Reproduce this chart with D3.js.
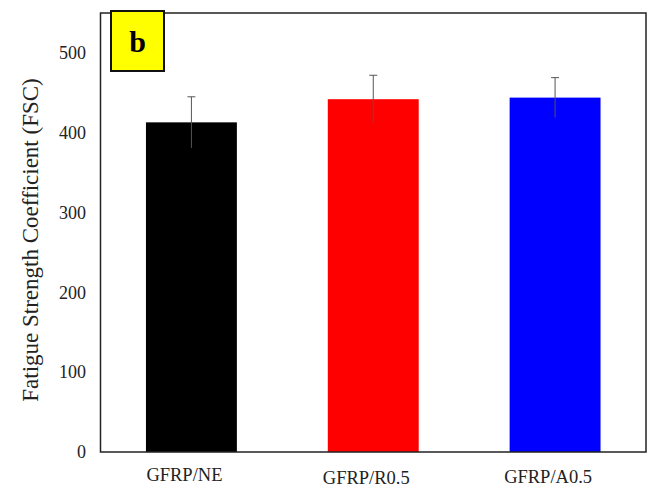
<!DOCTYPE html>
<html>
<head>
<script src="https://d3js.org/d3.v7.min.js"></script>
<style>
    body{margin:0;background:#fff;}
</style>
</head>
<body>
<div id="chart"></div>
<script>
    // data
    var groups = ["GFRP/NE","GFRP/R0.5","GFRP/A0.5"]
    var values = [413, 442, 444]
    var errors = [32, 30, 25]
    var colors = ["#000000","#ff0000","#0000ff"]
    var yTicks = [0,100,200,300,400,500]

    var width = 650, height = 487
    var plotLeft = 100.5, plotRight = 646, plotTop = 13, plotBottom = 452
    var serif = "'Liberation Serif', 'DejaVu Serif', 'Times New Roman', serif"

    var svg = d3.select("#chart").append("svg")
        .attr("width",width).attr("height",height)
        .style("font-family",serif)

    var x = d3.scaleBand().domain(groups).range([plotLeft,plotRight])
        .paddingInner(0.5).paddingOuter(0.25)
    var y = d3.scaleLinear().domain([0,550]).range([plotBottom,plotTop])

    var data = groups.map(function(g,i){
        return {name:g,value:values[i],err:errors[i],color:colors[i]}
    })

    svg.selectAll(".bar")
        .data(data)
        .enter()
        .append("rect")
        .attr("class","bar")
        .attr("x",function(d){return x(d.name)})
        .attr("y",function(d){return y(d.value)})
        .attr("width",x.bandwidth())
        .attr("height",function(d){return y(0)-y(d.value)})
        .attr("fill",function(d){return d.color})

    // error bars
    var eb = svg.selectAll(".err").data(data).enter().append("g").attr("class","err")
    eb.append("line")
        .attr("x1",function(d){return x(d.name)+x.bandwidth()/2})
        .attr("x2",function(d){return x(d.name)+x.bandwidth()/2})
        .attr("y1",function(d){return y(d.value-d.err)})
        .attr("y2",function(d){return y(d.value+d.err)})
        .attr("stroke","#555").attr("stroke-width",1)
    eb.append("line")
        .attr("x1",function(d){return x(d.name)+x.bandwidth()/2-4})
        .attr("x2",function(d){return x(d.name)+x.bandwidth()/2+4})
        .attr("y1",function(d){return y(d.value+d.err)})
        .attr("y2",function(d){return y(d.value+d.err)})
        .attr("stroke","#555").attr("stroke-width",1)

    // frame
    svg.append("rect")
        .attr("x",plotLeft).attr("y",plotTop)
        .attr("width",plotRight-plotLeft).attr("height",plotBottom-plotTop)
        .attr("fill","none").attr("stroke","#222").attr("stroke-width",1.5)

    // y tick labels
    svg.selectAll(".ytick")
        .data(yTicks)
        .enter()
        .append("text")
        .attr("class","ytick")
        .attr("x",86)
        .attr("y",function(d){return y(d)})
        .attr("dy","0.35em")
        .attr("text-anchor","end")
        .attr("font-family",serif)
        .attr("font-size",18)
        .attr("fill","#222")
        .text(function(d){return d})

    // x labels (sit a little low and left of the bars, like the original)
    var labelBase = [481, 484, 483]
    svg.selectAll(".xlab")
        .data(groups)
        .enter()
        .append("text")
        .attr("class","xlab")
        .attr("x",function(d){return x(d)+x.bandwidth()/2-7})
        .attr("y",function(d,i){return labelBase[i]})
        .attr("text-anchor","middle")
        .attr("font-family",serif)
        .attr("font-size",18.5)
        .attr("fill","#222")
        .text(function(d){return d})

    // y axis title
    svg.append("text")
        .attr("transform","translate(38,240) rotate(-90)")
        .attr("text-anchor","middle")
        .attr("font-family",serif)
        .attr("font-size",23)
        .attr("fill","#222")
        .text("Fatigue Strength Coefficient (FSC)")

    // panel tag
    svg.append("rect")
        .attr("x",111).attr("y",11)
        .attr("width",53).attr("height",60)
        .attr("fill","#ffff00").attr("stroke","#111").attr("stroke-width",2)
    svg.append("text")
        .attr("x",137.5).attr("y",52)
        .attr("text-anchor","middle")
        .attr("font-family",serif)
        .attr("font-size",30)
        .attr("font-weight","bold")
        .attr("fill","#000")
        .text("b")
</script>
</body>
</html>
